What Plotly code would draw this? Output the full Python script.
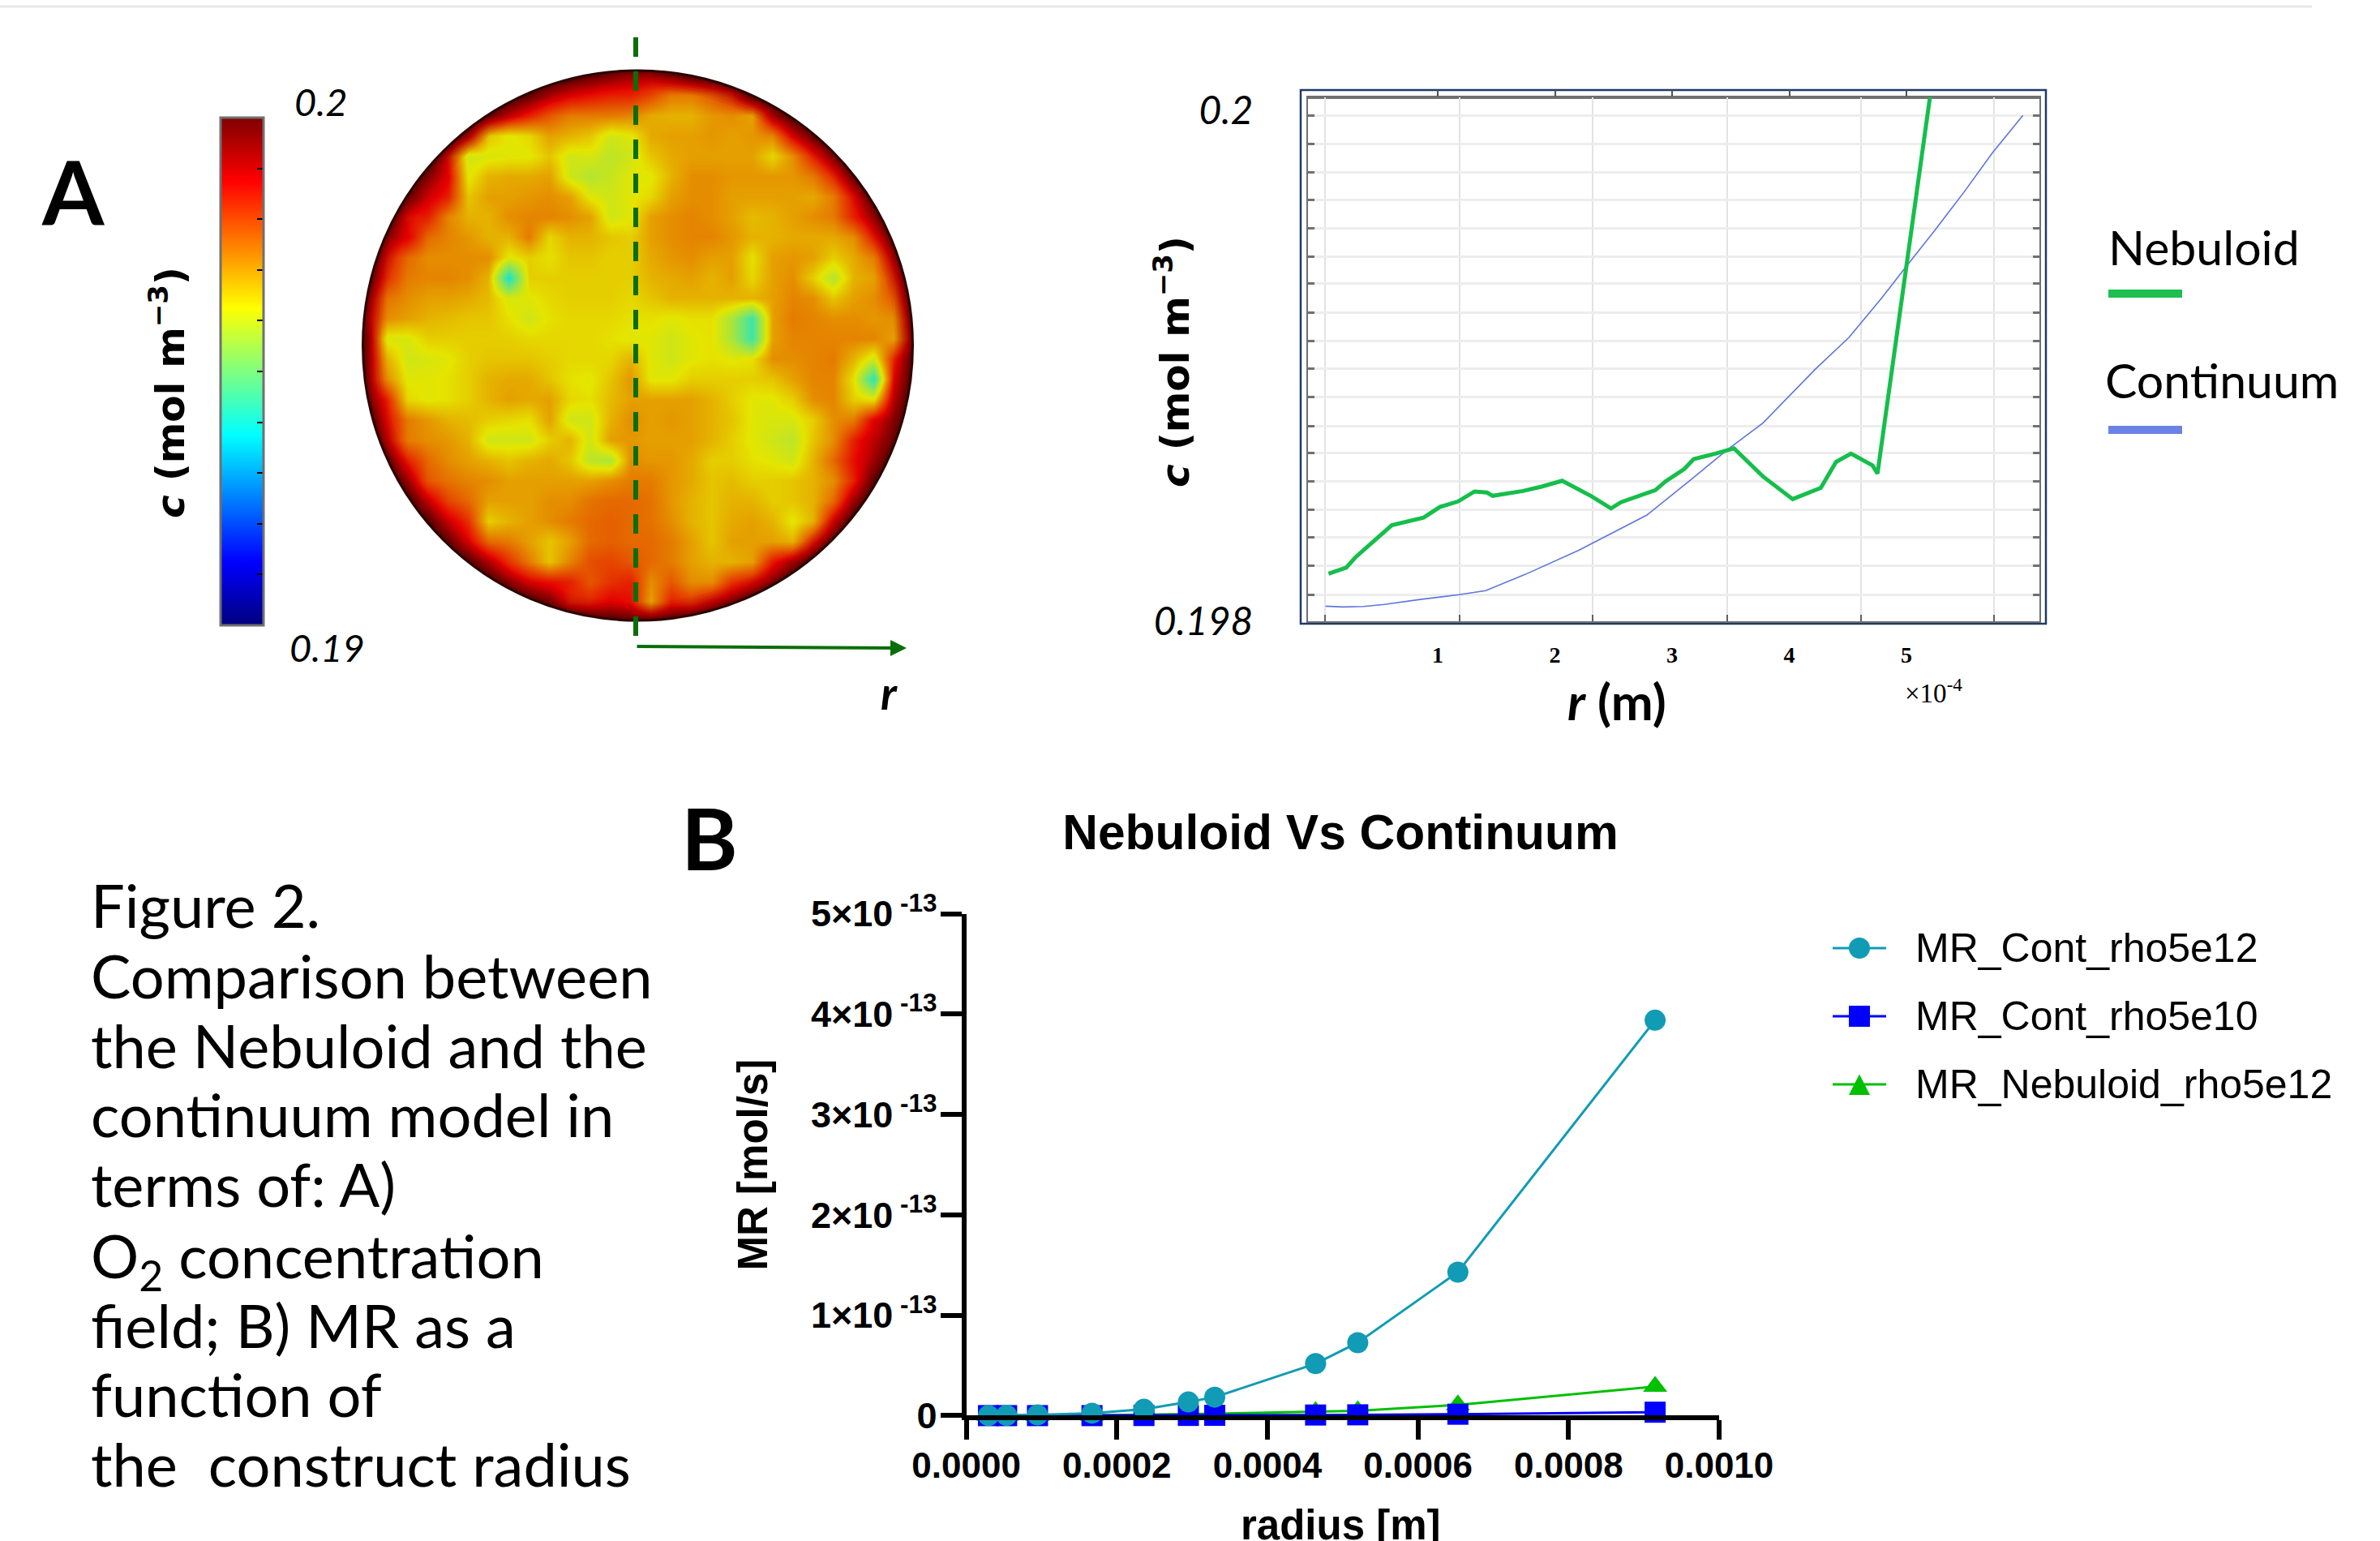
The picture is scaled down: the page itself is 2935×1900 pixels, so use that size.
import plotly.graph_objects as go

W, H = 2935, 1900

def px(x):
    return x / W

def py(y):
    return 1 - y / H

# ---------- Panel A, field (values in 1e-4 mol/m3 above 0.19)
heat_rows = [
 [100,100,100,100,100,100,100,100,100,100,100,98,95,92, 90,95,100,100,100,100,100,100,100,100,100,100,100,100],
 [100,100,100,100,100,100,100,100,98,92,88,86,84,84, 80,74,74,78,84,100,100,100,100,100,100,100,100,100],
 [100,100,100,100,100,100,96,90,84,78,74,74,74,73, 69,68,68,71,72,70,92,100,100,100,100,100,100,100],
 [100,100,100,100,100,90,66,62,64,70,68,66,60,62, 69,70,70,71,70,71,73,88,97,100,100,100,100,100],
 [100,100,100,100,85,60,61,62,62,66,60,61,58,60, 66,69,70,70,70,70,64,72,84,94,100,100,100,100],
 [100,100,100,95,88,62,68,69,69,70,60,57,59,62, 62,68,72,72,71,71,71,71,74,83,96,100,100,100],
 [100,100,97,90,84,66,70,70,71,72,70,62,60,62, 64,70,72,72,70,70,70,70,69,74,86,98,100,100],
 [100,98,86,84,73,68,68,72,73,73,72,70,60,62, 70,72,73,72,70,67,68,70,72,74,84,93,100,100],
 [100,92,88,76,73,71,68,68,74,64,68,68,66,65, 70,72,73,73,71,68,68,69,69,69,72,85,96,100],
 [100,85,76,72,72,72,72,62,65,63,66,66,65,65, 69,71,72,70,70,63,70,71,70,65,69,74,90,100],
 [99,82,74,73,73,72,68,40,65,65,65,65,65,65, 68,69,70,68,70,64,70,72,65,57,68,70,84,100],
 [92,75,72,70,70,69,67,61,62,64,65,65,65,64, 66,68,68,68,68,68,70,73,72,66,70,72,78,99],
 [90,72,70,68,67,66,66,63,60,63,64,64,64,63, 63,62,63,63,56,44,70,74,73,72,72,71,72,95],
 [95,61,61,65,65,65,65,65,64,64,64,64,63,62, 62,60,62,63,56,44,70,73,73,73,73,73,70,92],
 [94,68,60,61,62,65,66,66,66,65,64,64,64,68, 62,60,62,63,62,63,72,72,73,74,68,60,84,100],
 [92,72,62,62,63,65,68,69,69,66,63,62,66,71, 62,62,65,65,65,65,66,70,73,73,63,42,88,100],
 [94,84,64,62,63,65,68,70,69,70,64,63,67,70, 70,70,70,68,65,62,62,65,72,73,65,63,92,100],
 [100,86,74,71,68,67,65,64,63,70,60,60,68,72, 70,71,70,68,66,62,61,61,65,72,74,88,96,100],
 [100,88,74,72,71,68,60,60,60,65,68,60,70,71, 70,70,70,68,65,62,60,58,66,72,84,92,97,100],
 [100,96,84,76,72,70,68,66,68,69,66,58,56,72, 71,71,69,65,65,63,62,60,68,76,86,94,100,100],
 [100,100,93,78,75,73,72,70,70,70,70,70,72,74, 74,71,69,66,67,65,65,66,68,72,84,99,100,100],
 [100,100,100,90,80,76,70,70,70,72,72,75,76,76, 75,71,68,66,68,68,65,66,68,76,93,100,100,100],
 [100,100,100,100,90,82,65,68,70,72,74,76,77,76, 75,72,68,66,69,70,68,62,68,88,100,100,100,100],
 [100,100,100,100,98,88,76,74,70,66,70,76,77,76, 76,74,70,66,70,70,70,68,84,96,100,100,100,100],
 [100,100,100,100,100,99,92,82,74,66,73,79,80,78, 76,74,70,68,68,70,85,92,98,100,100,100,100,100],
 [100,100,100,100,100,100,100,94,88,86,84,78,82,84, 72,78,72,72,82,86,93,99,100,100,100,100,100,100],
 [100,100,100,100,100,100,100,100,100,96,84,84,88,86, 70,84,82,88,93,97,100,100,100,100,100,100,100,100],
 [100,100,100,100,100,100,100,100,100,100,100,100,100,98, 98,100,100,100,100,100,100,100,100,100,100,100,100,100],
]
heat_z = [[0.19 + v * 1e-4 for v in row] for row in heat_rows]
jet_scale = [[0, "#00007F"], [0.125, "#0000FF"], [0.375, "#00FFFF"],
             [0.625, "#FFFF00"], [0.875, "#FF0000"], [1, "#7F0000"]]
bar_ticks = [0.19, 0.191, 0.192, 0.193, 0.194, 0.195, 0.196, 0.197, 0.198, 0.199, 0.2]

# ---------- Panel A, profile (r in 1e-4 m)
neb_r = [0.068,0.219,0.297,0.467,0.608,0.880,1.021,1.173,1.314,1.420,1.469,1.727,1.886,2.062,2.309,2.479,2.564,
         2.857,2.945,3.104,3.185,3.369,3.528,3.775,4.029,4.269,4.400,4.527,4.711,4.753,5.208]
neb_c = [0.198186,0.198210,0.198250,0.198317,0.198376,0.198406,0.198448,0.198469,0.198508,0.198504,0.198491,
         0.198510,0.198527,0.198550,0.198490,0.198442,0.198466,0.198513,0.198548,0.198596,0.198635,0.198656,
         0.198677,0.198567,0.198478,0.198522,0.198624,0.198656,0.198610,0.198578,0.200075]
con_r = [0.043,0.191,0.368,0.544,0.862,1.180,1.409,1.745,2.203,2.486,2.786,3.157,3.475,3.775,4.230,4.510,4.790,
         5.000,5.245,5.490,5.735,5.994]
con_c = [0.198059,0.198056,0.198058,0.198066,0.198086,0.198104,0.198120,0.198183,0.198278,0.198344,0.198416,
         0.198553,0.198673,0.198776,0.198990,0.199111,0.199266,0.199390,0.199532,0.199679,0.199834,0.199980]
prof_grid_r = [0.038,1.187,2.322,3.471,4.614,5.75]
prof_grid_c = [0.19998,0.199868,0.199756,0.199650,0.199538,0.199426,0.199321,0.199207,0.199096,0.198989,
               0.198877,0.198765,0.198658,0.198547,0.198435,0.198328,0.198216,0.198104]
prof_xticks = [1, 2, 3, 4, 5]
prof_yticks = [0.198, 0.2]
prof_ylabels = ["0.198", "0.2"]

# ---------- Panel B
radius = [0.0000295,0.0000536,0.0000946,0.000167,0.000236,0.000295,0.00033,0.000464,0.00052,0.000653,0.000915]
mr_cont_5e12 = [1e-16,3e-16,7e-16,2.4e-15,6.3e-15,1.36e-14,1.84e-14,5.18e-14,7.27e-14,1.43e-13,3.94e-13]
mr_cont_5e10 = [0,0,0,0,1e-16,2e-16,3e-16,6e-16,8e-16,1.4e-15,3.4e-15]
mr_neb_5e12 = [1e-16,1e-16,1e-16,4e-16,9e-16,1.3e-15,1.9e-15,3.9e-15,4.8e-15,1.07e-14,2.9e-14]
b_xticks = [0, 0.0002, 0.0004, 0.0006, 0.0008, 0.001]
b_xlabels = ["0.0000", "0.0002", "0.0004", "0.0006", "0.0008", "0.0010"]
b_yticks = [0, 1e-13, 2e-13, 3e-13, 4e-13, 5e-13]
b_ylabels = ["0"] + [f"{i}×10<sup> -13</sup>" for i in range(1, 6)]

caption = ["Figure 2.", "Comparison between", "the Nebuloid and the", "continuum model in", "terms of: A)",
           "O<sub>2</sub> concentration", "field; B) MR as a", "function of", "the  construct radius"]
caption_base = [1139, 1226, 1312, 1397, 1483, 1577, 1657, 1742, 1828]

TEAL, BLUE, GREEN = "#119BB5", "#0000FF", "#00C000"
CAL, ARIAL, DEJA, SERIF = "Lato", "Liberation Sans", "DejaVu Sans", "Liberation Serif"

fig = go.Figure()

fig.add_trace(go.Heatmap(
    z=heat_z, zmin=0.19, zmax=0.2, colorscale=jet_scale, zsmooth="best", xaxis="x", yaxis="y",
    colorbar=dict(x=px(272), xanchor="left", xpad=0, y=py(771), yanchor="bottom", ypad=0,
                  lenmode="pixels", len=626, thicknessmode="pixels", thickness=53,
                  outlinecolor="#707070", outlinewidth=3, tickmode="array", tickvals=bar_ticks,
                  ticks="inside", ticklen=9, tickcolor="#000000", tickwidth=2, showticklabels=False),
))
fig.add_trace(go.Scatter(x=con_r, y=con_c, mode="lines", xaxis="x2", yaxis="y2", name="Continuum", showlegend=False,
                         cliponaxis=False, line=dict(color="#5F75DC", width=1.6)))
fig.add_trace(go.Scatter(x=neb_r, y=neb_c, mode="lines", xaxis="x2", yaxis="y2", name="Nebuloid", showlegend=False,
                         cliponaxis=False, line=dict(color="#16BE4B", width=5)))
fig.add_trace(go.Scatter(x=[], y=[], xaxis="x4", yaxis="y2", showlegend=False))

for name, y, color, sym in [("MR_Nebuloid_rho5e12", mr_neb_5e12, GREEN, "triangle-up"),
                            ("MR_Cont_rho5e10", mr_cont_5e10, BLUE, "square"),
                            ("MR_Cont_rho5e12", mr_cont_5e12, TEAL, "circle")]:
    fig.add_trace(go.Scatter(x=radius, y=y, name=name, mode="lines+markers", xaxis="x3", yaxis="y3",
                             showlegend=False, cliponaxis=False,
                             line=dict(color=color, width=3),
                             marker=dict(color=color, symbol=sym, size=26, line=dict(width=0))))

CX, CY, R = 786.5, 426, 339
K = 0.5523 * R
def P(x, y):
    return f"{px(x):.6f},{py(y):.6f}"
circle_path = (f"M{P(CX - R, CY)} C{P(CX - R, CY - K)} {P(CX - K, CY - R)} {P(CX, CY - R)} "
               f"C{P(CX + K, CY - R)} {P(CX + R, CY - K)} {P(CX + R, CY)} "
               f"C{P(CX + R, CY + K)} {P(CX + K, CY + R)} {P(CX, CY + R)} "
               f"C{P(CX - K, CY + R)} {P(CX - R, CY + K)} {P(CX - R, CY)} Z")
mask_path = f"M{P(420, 60)} L{P(1160, 60)} L{P(1160, 790)} L{P(420, 790)} Z " + circle_path

def paper_line(x0, x1, y0, y1, color, width, **kw):
    return dict(type="line", xref="paper", yref="paper", x0=px(x0), x1=px(x1), y0=py(y0), y1=py(y1),
                line=dict(color=color, width=width, **kw))

def ring(color, width):
    return dict(type="path", xref="paper", yref="paper", path=circle_path, fillcolor="rgba(0,0,0,0)",
                line=dict(color=color, width=width), layer="above")

shapes = [
    paper_line(0, 2851, 8, 8, "#E8E8E8", 3),
    dict(type="path", xref="paper", yref="paper", path=circle_path, fillcolor="rgba(0,0,0,0.10)",
         line=dict(width=0), layer="above"),
]
for alpha, width in [(0.05, 44), (0.06, 36), (0.07, 28), (0.09, 22), (0.11, 16), (0.14, 11), (0.18, 7)]:
    shapes.append(ring(f"rgba(60,0,0,{alpha})", width))
shapes += [
    dict(type="path", xref="paper", yref="paper", path=mask_path, fillcolor="#FFFFFF",
         line=dict(width=0), layer="above"),
    ring("#2A0500", 3),
    paper_line(784, 784, 46, 784, "#0A6E0A", 6, dash="24px,18px"),
    dict(type="rect", xref="paper", yref="paper", x0=px(1604), x1=px(2523), y0=py(111), y1=py(769),
         line=dict(color="#1F3A68", width=2.5), layer="below"),
    paper_line(1613, 2515, 120, 120, "#707070", 4),
    paper_line(2600, 2691, 362, 362, "#1CC04F", 10),
    paper_line(2600, 2691, 530, 530, "#6B82E6", 10),
]
shapes[-3]["layer"] = "below"

# panel B key: line and large symbol per series
KEY_Y = [1169, 1253, 1337]
KEY_COLORS = [TEAL, BLUE, GREEN]
for yk, col in zip(KEY_Y, KEY_COLORS):
    shapes.append(paper_line(2260, 2326, yk, yk, col, 3))
shapes.append(dict(type="circle", xref="paper", yref="paper", x0=px(2280), x1=px(2306), y0=py(1182), y1=py(1156),
                   fillcolor=TEAL, line=dict(width=0)))
shapes.append(dict(type="rect", xref="paper", yref="paper", x0=px(2280), x1=px(2306), y0=py(1266), y1=py(1240),
                   fillcolor=BLUE, line=dict(width=0)))
shapes.append(dict(type="path", xref="paper", yref="paper",
                   path=f"M{P(2293, 1324.5)} L{P(2306, 1350)} L{P(2280, 1350)} Z",
                   fillcolor=GREEN, line=dict(width=0)))

def note(text, x, y, size, font=CAL, anchor="center", color="#000000", angle=0):
    return dict(text=text, xref="paper", yref="paper", x=px(x), y=py(y), xanchor=anchor, yanchor="middle",
                showarrow=False, textangle=angle, align="left",
                font=dict(family=font, size=size, color=color))

annotations = [
    note("<b>A</b>", 90, 234, 110),
    note("<b>B</b>", 875, 1032, 106),
    note("<b><i>c</i> (mol m<sup>−3</sup>)</b>", 206, 484, 48.5, DEJA, angle=-90),
    note("<b><i>c</i> (mol m<sup>−3</sup>)</b>", 1446, 446, 48.5, DEJA, angle=-90),
    note("<i>0.2</i>", 396, 125, 47),
    note("<i>0.19</i>", 403, 798, 47),
    note("<b><i>r</i></b>", 1096, 853, 56),
    note("<b><i>r</i> (m)</b>", 1994, 864, 62),
    note("×10<sup>-4</sup>", 2384, 852, 33, SERIF),
    note("Nebuloid", 2598, 305, 59, anchor="left"),
    note("Continuum", 2594, 468, 59, anchor="left"),
    note("MR_Cont_rho5e12", 2360, 1169, 50, ARIAL, anchor="left"),
    note("MR_Cont_rho5e10", 2360, 1253, 50, ARIAL, anchor="left"),
    note("MR_Nebuloid_rho5e12", 2360, 1337, 50, ARIAL, anchor="left"),
    note("<b>radius [m]</b>", 1653, 1880, 51, ARIAL),
    dict(text="", xref="paper", yref="paper", x=px(1118), y=py(799), ax=-334, ay=-2, axref="pixel", ayref="pixel",
         showarrow=True, arrowhead=2, arrowsize=1.0, arrowwidth=4, arrowcolor="#0A6E0A", standoff=0),
]
for line, base in zip(caption, caption_base):
    annotations.append(note(line, 110, base - 24, 74, anchor="left"))

hidden = dict(visible=False, showgrid=False, zeroline=False, fixedrange=True)
fig.update_layout(
    width=W, height=H, margin=dict(l=0, r=0, t=0, b=0, pad=0, autoexpand=False),
    paper_bgcolor="#FFFFFF", plot_bgcolor="rgba(0,0,0,0)", showlegend=False,
    font=dict(family=ARIAL, color="#000000"),
    title=dict(text="<b>Nebuloid Vs Continuum</b>", x=px(1653), xanchor="center", y=py(1026), yanchor="middle",
               font=dict(family=ARIAL, size=60.5, color="#000000")),
    xaxis=dict(domain=[px(440), px(1140)], range=[-0.5, 27.5], anchor="y", **hidden),
    yaxis=dict(domain=[py(780), py(80)], range=[27.5, -0.5], anchor="x", **hidden),
    xaxis2=dict(domain=[px(1613), px(2515)], range=[-0.1073, 6.135], anchor="y2",
                tickmode="array", tickvals=prof_xticks, ticktext=[f"<b>{v}</b>" for v in prof_xticks],
                ticks="", showgrid=False, zeroline=False, showline=True, linecolor="#707070", linewidth=2,
                mirror=True, ticklabelstandoff=15, tickfont=dict(family=SERIF, size=28, color="#000000"),
                minor=dict(tickmode="array", tickvals=prof_grid_r, ticks="inside", ticklen=8, tickwidth=2,
                           tickcolor="#606060", showgrid=True, gridcolor="#E3E3E3", gridwidth=2)),
    yaxis2=dict(domain=[py(766), py(120)], range=[0.198, 0.2000508], anchor="x2",
                tickmode="array", tickvals=prof_yticks, ticktext=prof_ylabels,
                ticks="", showgrid=False, zeroline=False, showline=True, linecolor="#707070", linewidth=2,
                mirror="ticks", ticklabelstandoff=56, tickfont=dict(family=CAL, size=48, style="italic", color="#000000"),
                minor=dict(tickmode="array", tickvals=prof_grid_c, ticks="inside", ticklen=8, tickwidth=3,
                           tickcolor="#707070", showgrid=True, gridcolor="#EDEDED", gridwidth=3)),
    xaxis4=dict(overlaying="x2", anchor="y2", side="top", range=[-0.1073, 6.135], tickmode="array",
                tickvals=prof_xticks, ticks="outside", ticklen=8, tickwidth=2, tickcolor="#505050",
                showticklabels=False, showgrid=False, zeroline=False, showline=False),
    xaxis3=dict(domain=[px(1191.6), px(2120)], range=[0, 0.001], anchor="y3",
                tickmode="array", tickvals=b_xticks, ticktext=b_xlabels,
                ticks="outside", ticklen=24, tickwidth=6, tickcolor="#000000", ticklabelstandoff=-6,
                showline=True, linecolor="#000000", linewidth=6, showgrid=False, zeroline=False,
                tickfont=dict(family=ARIAL, size=44, weight="bold", color="#000000")),
    yaxis3=dict(domain=[py(1745.4), py(1126.7)], range=[0, 5e-13], anchor="x3",
                tickmode="array", tickvals=b_yticks, ticktext=b_ylabels,
                ticks="outside", ticklen=26, tickwidth=6, tickcolor="#000000", ticklabelstandoff=-5,
                showline=True, linecolor="#000000", linewidth=6, showgrid=False, zeroline=False,
                tickfont=dict(family=ARIAL, size=45, weight="bold", color="#000000"),
                title=dict(text="<b>MR [mol/s]</b>", standoff=39, font=dict(family=ARIAL, size=51, color="#000000"))),
    shapes=shapes, annotations=annotations,
)

fig.write_html("out.html", config={"displayModeBar": False}, post_script="document.body.style.margin='0';")
